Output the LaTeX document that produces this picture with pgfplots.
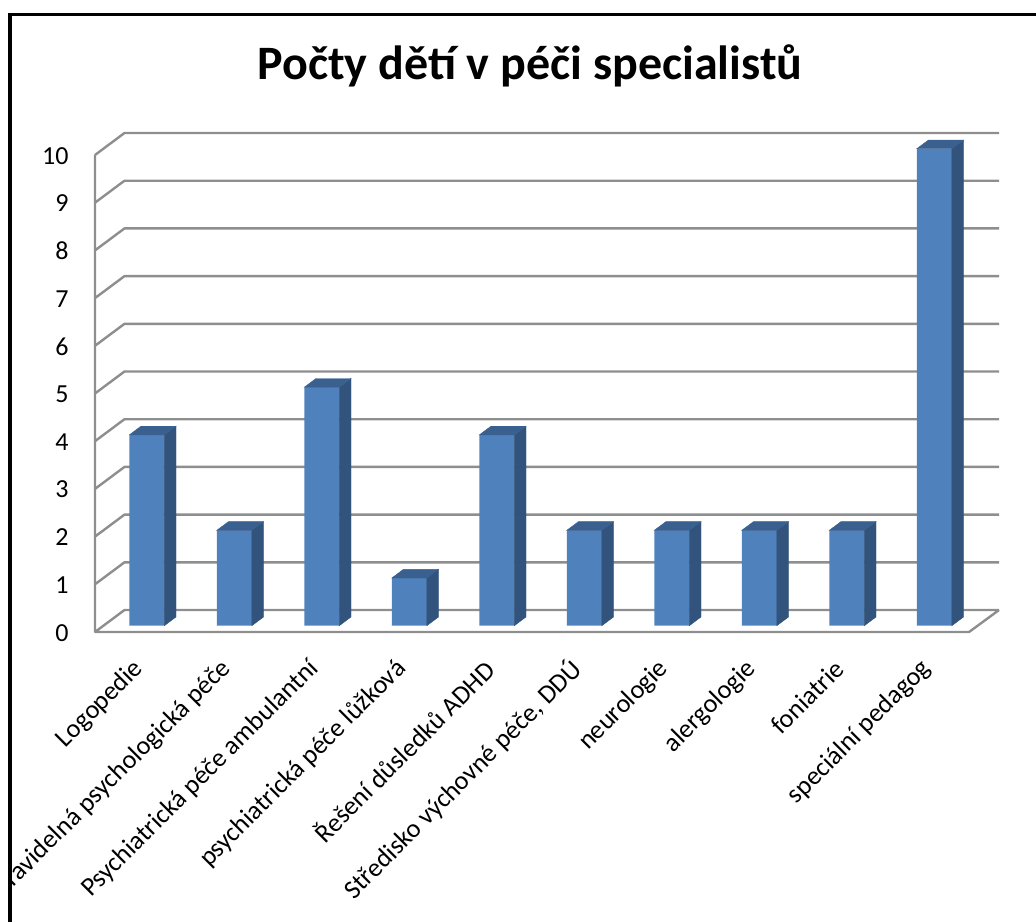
\documentclass[border=0pt]{standalone}
\usepackage{fontspec}
\setmainfont{Carlito}
\usepackage{pgfplots}
\usepackage{pgfplotstable}
\pgfplotsset{compat=1.18}
\definecolor{barfront}{HTML}{4F81BD}
\definecolor{barside}{HTML}{32537C}
\definecolor{bartop}{HTML}{3A608F}
\definecolor{gridgrey}{HTML}{8E8E8E}
\pgfplotstableread{
i v
0 4
1 2
2 5
3 1
4 4
5 2
6 2
7 2
8 2
9 10
}\bars
\begin{document}
\begin{tikzpicture}[x=1pt,y=1pt]
\useasboundingbox (0,0) rectangle (1036,922);
\begin{axis}[
  at={(95pt,290pt)}, anchor=south west,
  x=87.5pt, y=47.7pt,
  xmin=-0.592, xmax=9.74, ymin=-0.132, ymax=10.4,
  clip=false,
  axis line style={draw=none},
  major tick length=0pt,
  xtick={0,...,9},
  xticklabels={Logopedie,Pravidelná psychologická péče,Psychiatrická péče ambulantní,psychiatrická péče lůžková,Řešení důsledků ADHD,{Středisko výchovné péče, DDÚ},neurologie,alergologie,foniatrie,speciální pedagog},
  xticklabel style={font=\fontsize{26.3}{26.3}\selectfont, rotate=45, anchor=east, xshift=-25pt, yshift=-18pt},
  ytick={0,...,10},
  yticklabel style={font=\fontsize{26}{26}\selectfont, anchor=east, xshift=-23pt, yshift=-7pt},
  /pgf/number format/assume math mode=true,
]
% back wall grid and floor lines
\addplot[gridgrey, line width=2.4pt, line join=round, unbounded coords=jump, mark=none] table[row sep=\\] {
x y\\
-0.592 -0.132\\ -0.255 0.329\\ 9.74 0.329\\ nan nan\\
-0.592 0.868\\ -0.255 1.329\\ 9.74 1.329\\ nan nan\\
-0.592 1.868\\ -0.255 2.329\\ 9.74 2.329\\ nan nan\\
-0.592 2.868\\ -0.255 3.329\\ 9.74 3.329\\ nan nan\\
-0.592 3.868\\ -0.255 4.329\\ 9.74 4.329\\ nan nan\\
-0.592 4.868\\ -0.255 5.329\\ 9.74 5.329\\ nan nan\\
-0.592 5.868\\ -0.255 6.329\\ 9.74 6.329\\ nan nan\\
-0.592 6.868\\ -0.255 7.329\\ 9.74 7.329\\ nan nan\\
-0.592 7.868\\ -0.255 8.329\\ 9.74 8.329\\ nan nan\\
-0.592 8.868\\ -0.255 9.329\\ 9.74 9.329\\ nan nan\\
-0.592 9.868\\ -0.255 10.329\\ 9.74 10.329\\ nan nan\\
-0.592 9.868\\ -0.592 -0.132\\ 9.397 -0.132\\ 9.74 0.329\\
};
% side and top faces
\addplot[only marks, mark=*, mark size=0pt, scatter,
  visualization depends on={rawy \as \barval},
  scatter/@pre marker code/.code={%
    \pgfmathsetmacro\hh{47.7*\barval}%
    \pgfmathsetmacro\hb{8.7-\hh}%
    \pgfmathsetmacro\hm{-\hh}%
    \fill[barside] (17.5pt,0pt) -- (29.2pt,8.7pt) -- (29.2pt,\hb pt) -- (17.5pt,\hm pt) -- cycle;
    \fill[bartop] (-17.5pt,0pt) -- (-5.8pt,8.7pt) -- (29.2pt,8.7pt) -- (17.5pt,0pt) -- cycle;
    \begingroup
  },
  scatter/@post marker code/.code={\endgroup},
] table[x=i,y=v] {\bars};
% front faces
\addplot[ybar, bar width=35pt, bar shift=0pt, fill=barfront, draw=none] table[x=i,y=v] {\bars};
\end{axis}
\node[font=\fontsize{48}{48}\bfseries\selectfont, anchor=center] at (530,856) {Počty dětí v péči specialistů};
% page frame
\fill[white] (0,0) rectangle (7.5,922);
\fill[black] (7.5,0) rectangle (12,908.5);
\fill[black] (7.5,906) rectangle (1036,908.6);
\end{tikzpicture}
\end{document}
